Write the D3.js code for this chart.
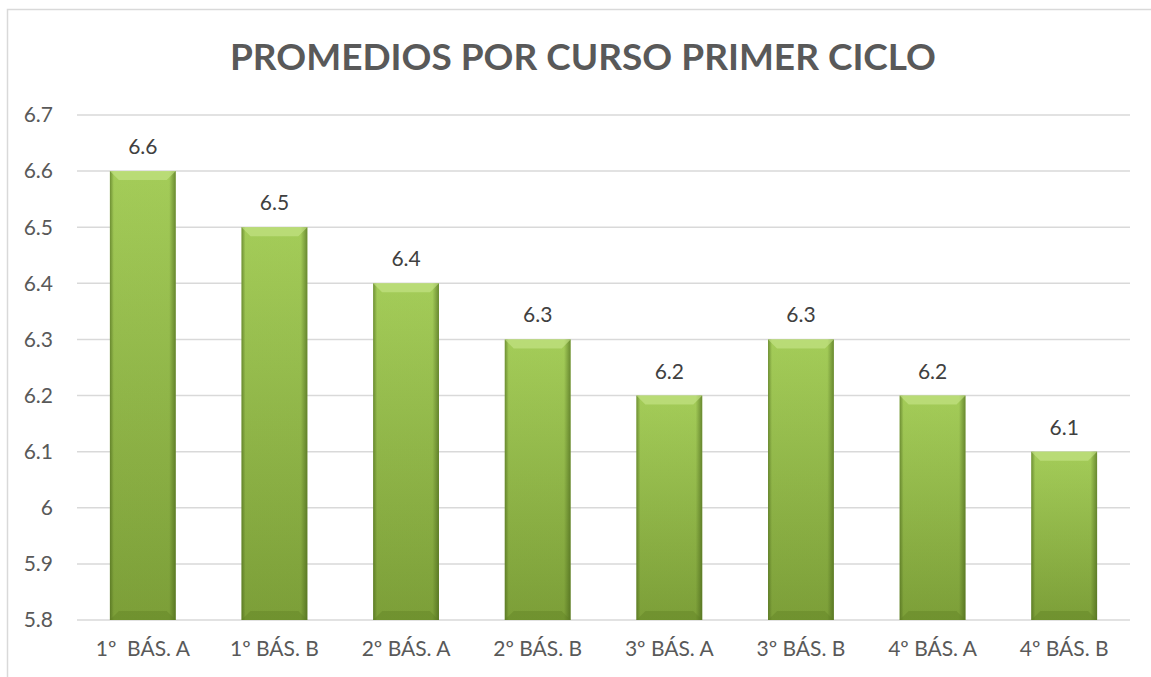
<!DOCTYPE html>
<html>
<head>
<meta charset="utf-8">
<script src="https://cdn.jsdelivr.net/npm/d3@7.9.0/dist/d3.min.js"></script>
<style>
  html, body { margin: 0; padding: 0; background: #fff; }
  svg text { font-family: Lato, "Open Sans", sans-serif; }
</style>
</head>
<body>
<svg id="chart" width="1151" height="677"></svg>
<script>
// data
const courses = ["1º  BÁS. A", "1º BÁS. B", "2º BÁS. A", "2º BÁS. B", "3º BÁS. A", "3º BÁS. B", "4º BÁS. A", "4º BÁS. B"];
const averages = [6.6, 6.5, 6.4, 6.3, 6.2, 6.3, 6.2, 6.1];
const yTicks = [5.8, 5.9, 6, 6.1, 6.2, 6.3, 6.4, 6.5, 6.6, 6.7];
const chartTitle = "PROMEDIOS POR CURSO PRIMER CICLO";

const svg = d3.select("#chart");
const W = 1151, H = 677;
const margin = { left: 77, right: 21, top: 115, bottom: 57 };

// outer chart border (only top and left visible in the crop)
svg.append("path")
  .attr("d", `M7.5,${H} V9.5 H${W}`)
  .attr("fill", "none")
  .attr("stroke", "#d9d9d9")
  .attr("stroke-width", 1.5);

const x = d3.scaleBand()
  .domain(courses)
  .range([margin.left, W - margin.right])
  .paddingInner(0.5)
  .paddingOuter(0.25);

const y = d3.scaleLinear()
  .domain([5.8, 6.7])
  .range([H - margin.bottom, margin.top]);

// gradients
const defs = svg.append("defs");
const vert = defs.append("linearGradient").attr("id", "barFill")
  .attr("x1", 0).attr("y1", 0).attr("x2", 0).attr("y2", 1);
vert.append("stop").attr("offset", "0%").attr("stop-color", "#a9d25c");
vert.append("stop").attr("offset", "100%").attr("stop-color", "#7fa23a");

const horiz = defs.append("linearGradient").attr("id", "barEdge")
  .attr("x1", 0).attr("y1", 0).attr("x2", 1).attr("y2", 0);
horiz.append("stop").attr("offset", "0%").attr("stop-color", "#3f5a14").attr("stop-opacity", 0.55);
horiz.append("stop").attr("offset", "6%").attr("stop-color", "#3f5a14").attr("stop-opacity", 0.05);
horiz.append("stop").attr("offset", "90%").attr("stop-color", "#3f5a14").attr("stop-opacity", 0.05);
horiz.append("stop").attr("offset", "100%").attr("stop-color", "#3f5a14").attr("stop-opacity", 0.6);

// gridlines
svg.append("g")
  .selectAll("line")
  .data(yTicks)
  .join("line")
  .attr("x1", margin.left)
  .attr("x2", W - margin.right)
  .attr("y1", d => y(d))
  .attr("y2", d => y(d))
  .attr("stroke", "#d9d9d9")
  .attr("stroke-width", 1.5);

// y tick labels
svg.append("g")
  .selectAll("text")
  .data(yTicks)
  .join("text")
  .attr("x", 53)
  .attr("y", d => y(d))
  .attr("dy", "0.35em")
  .attr("text-anchor", "end")
  .attr("fill", "#595959")
  .attr("font-size", 21)
  .text(d => d);

// bars
const bars = svg.append("g")
  .selectAll("g")
  .data(courses.map((c, i) => ({ c, v: averages[i] })))
  .join("g")
  .attr("transform", d => `translate(${x(d.c)},${y(d.v)})`);

const bw = x.bandwidth();
const bh = d => y(5.8) - y(d.v);

bars.append("rect")
  .attr("width", bw)
  .attr("height", bh)
  .attr("fill", "url(#barFill)");

bars.append("rect")
  .attr("width", bw)
  .attr("height", bh)
  .attr("fill", "url(#barEdge)");

// top bevel
bars.append("path")
  .attr("d", `M0,0 H${bw} L${bw - 9},9 H9 Z`)
  .attr("fill", "#c8e68a")
  .attr("opacity", 0.6);

// bottom bevel
bars.append("path")
  .attr("d", d => `M0,${bh(d)} H${bw} L${bw - 9},${bh(d) - 9} H9 Z`)
  .attr("fill", "#5f7f22")
  .attr("opacity", 0.4);

// value labels
svg.append("g")
  .selectAll("text")
  .data(courses.map((c, i) => ({ c, v: averages[i] })))
  .join("text")
  .attr("x", d => x(d.c) + bw / 2)
  .attr("y", d => y(d.v) - 17)
  .attr("text-anchor", "middle")
  .attr("fill", "#404040")
  .attr("font-size", 21)
  .text(d => d.v);

// category labels
svg.append("g")
  .selectAll("text")
  .data(courses)
  .join("text")
  .attr("x", d => x(d) + bw / 2)
  .attr("y", 656)
  .attr("text-anchor", "middle")
  .attr("fill", "#595959")
  .attr("font-size", 21)
  .style("white-space", "pre")
  .text(d => d);

// title
svg.append("text")
  .attr("x", 583)
  .attr("y", 70)
  .attr("text-anchor", "middle")
  .attr("fill", "#595959")
  .attr("font-size", 37)
  .attr("font-weight", "bold")
  .text(chartTitle);
</script>
</body>
</html>
